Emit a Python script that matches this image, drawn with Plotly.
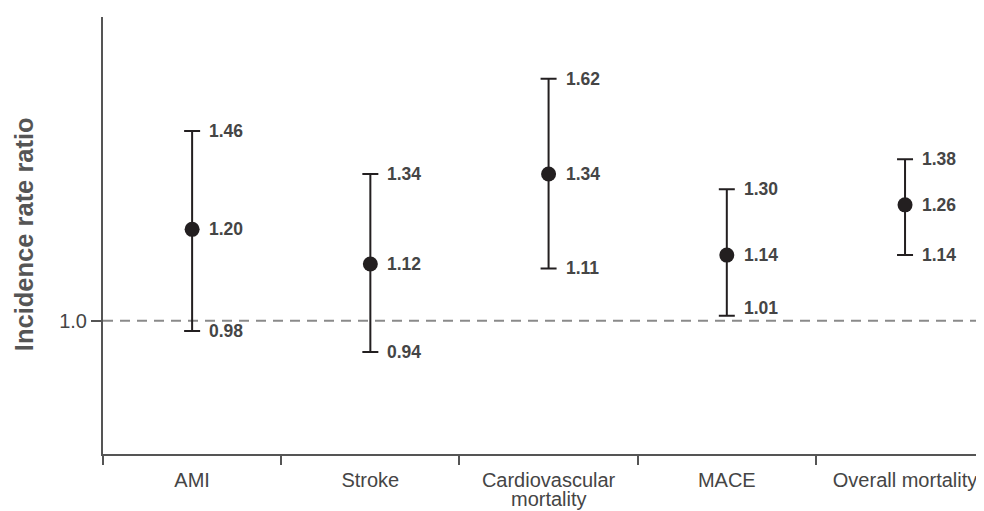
import math
import plotly.graph_objects as go

categories = ["AMI", "Stroke", "Cardiovascular mortality", "MACE", "Overall mortality"]
tick_lines = [["AMI"], ["Stroke"], ["Cardiovascular", "mortality"], ["MACE"], ["Overall mortality"]]
estimate = [1.20, 1.12, 1.34, 1.14, 1.26]
lower = [0.98, 0.94, 1.11, 1.01, 1.14]
upper = [1.46, 1.34, 1.62, 1.30, 1.38]

FONT = "Liberation Sans, Arial, sans-serif"
INK = "#231f20"
TXT = "#454545"
AX = "#555555"

fig = go.Figure()
fig.add_trace(go.Scatter(
    x=categories, y=estimate, mode="markers",
    marker=dict(size=15, color=INK),
    error_y=dict(type="data", symmetric=False,
                 array=[u - e for u, e in zip(upper, estimate)],
                 arrayminus=[e - l for e, l in zip(estimate, lower)],
                 width=8, thickness=2, color=INK),
    showlegend=False, cliponaxis=False,
))

# reference line at 1.0
fig.add_shape(type="line", xref="paper", yref="y", x0=0, x1=1, y0=1, y1=1,
              line=dict(color="#8a8a8a", width=2, dash="10px,7px"), layer="below")

# value labels
label_yshift = {(3, "lower"): 8}
for i, cat in enumerate(categories):
    for kind, v in (("upper", upper[i]), ("est", estimate[i]), ("lower", lower[i])):
        fig.add_annotation(x=cat, y=math.log10(v), xref="x", yref="y",
                           text=f"<b>{v:.2f}</b>", showarrow=False,
                           xanchor="left", yanchor="middle", xshift=15,
                           yshift=label_yshift.get((i, kind), 0),
                           font=dict(family=FONT, size=17.5, color=TXT))

# second lines of category labels (tighter line spacing than Plotly's <br>)
for cat, lines in zip(categories, tick_lines):
    for k, line in enumerate(lines[1:], start=1):
        fig.add_annotation(x=cat, xref="x", yref="paper", y=0, yanchor="top",
                           yshift=-33 - 18 * (k - 1), text=line, showarrow=False,
                           borderpad=0,
                           font=dict(family=FONT, size=20, color=TXT))

# y-axis title
fig.add_annotation(xref="paper", yref="paper", x=0, y=0.503, xshift=-79,
                   text="<b>Incidence rate ratio</b>", textangle=-90, showarrow=False,
                   xanchor="center", yanchor="middle",
                   font=dict(family=FONT, size=25.5, color=AX))

fig.update_layout(
    width=976, height=503,
    margin=dict(l=95, r=0, t=9, b=57),
    paper_bgcolor="white", plot_bgcolor="white",
    font=dict(family=FONT, color=TXT),
    xaxis=dict(type="category", range=[-0.5, 4.443], tickson="boundaries",
               categoryorder="array", categoryarray=categories,
               tickvals=categories, ticktext=[l[0] for l in tick_lines],
               ticks="outside", ticklen=9, tickwidth=2, tickcolor=AX,
               ticklabelstandoff=7,
               showline=True, linecolor=AX, linewidth=2, showgrid=False,
               tickfont=dict(family=FONT, size=20, color=TXT)),
    yaxis=dict(type="log", range=[math.log10(0.767), math.log10(1.832)],
               tickvals=[1.0], ticktext=["1.0"],
               ticks="outside", ticklen=10, tickwidth=2, tickcolor=AX,
               showline=True, linecolor=AX, linewidth=2, showgrid=False,
               zeroline=False,
               tickfont=dict(family=FONT, size=20, color=TXT)),
)

fig.write_html("out.html")
